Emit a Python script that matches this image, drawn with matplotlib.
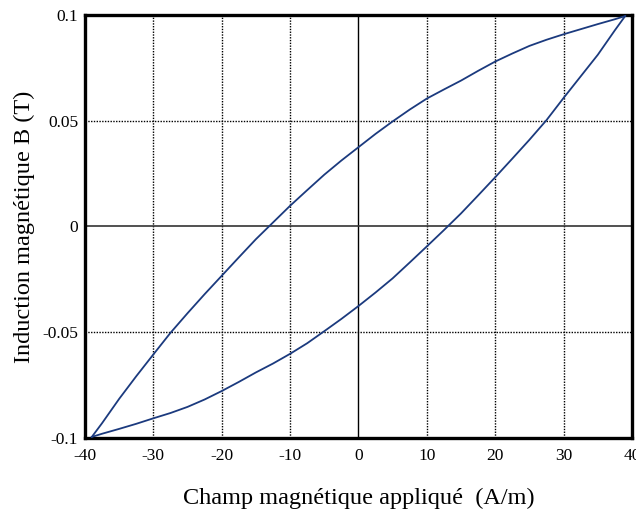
import matplotlib
matplotlib.use("Agg")
import matplotlib.pyplot as plt

plt.rcParams.update({
    "font.family": "serif",
    "font.serif": ['Liberation Serif', 'Times New Roman', 'DejaVu Serif'],
})
plt.rcParams['axes.unicode_minus'] = False

# champ H (A/m) et induction B (T) - branche descendante
H_desc = [39, 37.5, 35, 32.5, 30, 27.5, 25, 22.5, 20, 17.5, 15, 12.5, 10, 7.5, 5, 2.5, 0,
          -2.5, -5, -7.5, -10, -12.5, -15, -17.5, -20, -22.5, -25, -27.5, -30, -32.5, -35, -37.5, -39]
B_desc = [0.0995, 0.0980, 0.0957, 0.0933, 0.0909, 0.0883, 0.0854, 0.0818, 0.0780, 0.0736, 0.0690,
          0.0648, 0.0605, 0.0553, 0.0497, 0.0438, 0.0375, 0.0312, 0.0245, 0.0172, 0.0098, 0.0019,
          -0.0060, -0.0146, -0.0233, -0.0320, -0.0410, -0.0503, -0.0605, -0.0708, -0.0815, -0.0930, -0.0995]

# branche montante
H_mont = [-39, -37.5, -35, -32.5, -30, -27.5, -25, -22.5, -20, -17.5, -15, -12.5, -10, -7.5, -5, -2.5, 0,
          2.5, 5, 7.5, 10, 12.5, 15, 17.5, 20, 22.5, 25, 27.5, 30, 32.5, 35, 37.5, 39]
B_mont = [-0.0995, -0.0980, -0.0957, -0.0933, -0.0907, -0.0882, -0.0853, -0.0818, -0.0778, -0.0735, -0.0690,
          -0.0648, -0.0602, -0.0552, -0.0495, -0.0437, -0.0376, -0.0312, -0.0245, -0.0170, -0.0094, -0.0017,
          0.0062, 0.0147, 0.0233, 0.0321, 0.0410, 0.0503, 0.0608, 0.0710, 0.0812, 0.0928, 0.0995]

xticks = [-40, -30, -20, -10, 0, 10, 20, 30, 40]
yticks = [-0.1, -0.05, 0, 0.05, 0.1]
yticklabels = ['-0.1', '-0.05', '0', '0.05', '0.1']

fig = plt.figure(figsize=(6.36, 5.14), dpi=100)
ax = fig.add_axes([0.1336, 0.1479, 0.8601, 0.8229])

# grille : pointillés, axes zéro en trait plein
for x in xticks[1:-1]:
    if x == 0:
        ax.axvline(x, color='black', lw=1.0, zorder=1)
    else:
        ax.axvline(x, color='black', lw=1.0, ls=(0, (1, 1)), zorder=1)
for y in yticks[1:-1]:
    if y == 0:
        ax.axhline(y, color='#333333', lw=1.2, zorder=1)
    else:
        ax.axhline(y, color='black', lw=1.0, ls=(0, (1, 1)), zorder=1)

ax.plot(H_desc, B_desc, color='#1b3a7e', lw=1.3, zorder=3)
ax.plot(H_mont, B_mont, color='#1b3a7e', lw=1.3, zorder=3)

ax.set_xlim(-40, 40)
ax.set_ylim(-0.1, 0.1)
ax.set_xticks(xticks)
ax.set_yticks(yticks)
ax.set_yticklabels(yticklabels)
ax.tick_params(axis='both', length=0, labelsize=12.5)
ax.tick_params(axis='x', pad=7)
ax.tick_params(axis='y', pad=5)
for s in ax.spines.values():
    s.set_linewidth(2.4)

ax.set_xlabel('Champ magnétique appliqué  (A/m)', fontsize=17.5, labelpad=17)
ax.set_ylabel('Induction magnétique B (T)', fontsize=17.5, labelpad=5)

plt.savefig('out.png', dpi=100)
